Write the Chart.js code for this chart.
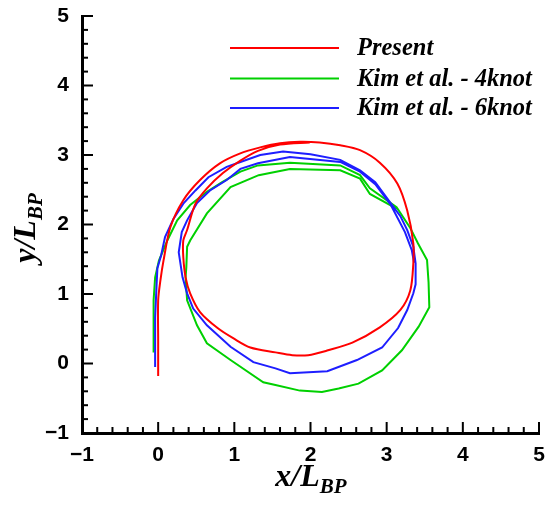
<!DOCTYPE html>
<html lang="en">
<head>
    <meta charset="UTF-8">
    <title>Turning circle trajectory</title>
    <script src="https://cdn.jsdelivr.net/npm/chart.js"></script>
    <style>
        * { margin: 0; padding: 0; box-sizing: border-box; }
        body { background: #fff; width: 550px; height: 509px; overflow: hidden; }
        canvas { display: block; }
    </style>
</head>
<body>
    <canvas id="trajChart" width="550" height="509"></canvas>

    <script>
        // series labels and colours (legend order)
        const seriesLabels = ["Present", "Kim et al. - 4knot", "Kim et al. - 6knot"];
        const seriesColors = ["#ff0000", "#00d000", "#1e1eff"];

        // Present (red)
        const presentX = [0.00, 0.00, 0.00, 0.03, 0.07, 0.16, 0.33, 0.55, 0.81, 1.07, 1.34, 1.60, 1.86, 2.12, 2.39,
            2.65, 2.91, 3.14, 3.27, 3.35, 3.35, 3.31, 3.18, 2.91, 2.55, 2.23, 1.97, 1.76, 1.54, 1.21,
            0.99, 0.78, 0.55, 0.42, 0.36, 0.33, 0.33, 0.38, 0.49, 0.64, 0.85, 1.08, 1.31, 1.60, 1.99];
        const presentY = [-0.18, 0.33, 0.91, 1.20, 1.48, 1.96, 2.35, 2.64, 2.88, 3.02, 3.11, 3.17, 3.19, 3.18, 3.14,
            3.07, 2.89, 2.59, 2.20, 1.73, 1.44, 1.05, 0.77, 0.52, 0.30, 0.19, 0.12, 0.12, 0.16, 0.23,
            0.36, 0.51, 0.74, 1.01, 1.24, 1.53, 1.77, 1.92, 2.30, 2.52, 2.74, 2.92, 3.06, 3.15, 3.18];

        // Kim et al. - 4knot (green)
        const kim4X = [-0.06, -0.06, -0.04, 0.01, 0.12, 0.25, 0.42, 0.64, 0.84, 1.08, 1.31, 1.73, 2.39, 2.65, 2.78,
            3.13, 3.31, 3.41, 3.53, 3.55, 3.56, 3.42, 3.20, 2.94, 2.63, 2.37, 2.15, 1.86, 1.54, 1.38,
            0.95, 0.64, 0.51, 0.38, 0.36, 0.37, 0.38, 0.42, 0.64, 0.95, 1.32, 1.73, 2.39, 2.65, 2.78, 3.13];
        const kim4Y = [0.16, 0.91, 1.24, 1.48, 1.77, 2.06, 2.28, 2.47, 2.61, 2.76, 2.85, 2.89, 2.85, 2.71, 2.52,
            2.25, 1.95, 1.73, 1.49, 1.17, 0.81, 0.53, 0.19, -0.10, -0.29, -0.36, -0.41, -0.39, -0.31, -0.27,
            0.05, 0.29, 0.55, 0.91, 1.24, 1.39, 1.68, 1.77, 2.16, 2.54, 2.71, 2.80, 2.78, 2.66, 2.44, 2.23];

        // Kim et al. - 6knot (blue)
        const kim6X = [-0.04, -0.04, -0.02, -0.01, 0.04, 0.09, 0.20, 0.33, 0.49, 0.66, 0.90, 1.08, 1.34, 1.64, 2.00,
            2.39, 2.65, 2.85, 3.05, 3.18, 3.27, 3.35, 3.38, 3.38, 3.35, 3.27, 3.15, 2.94, 2.61, 2.22,
            1.73, 1.54, 1.25, 0.95, 0.64, 0.46, 0.38, 0.32, 0.27, 0.31, 0.38, 0.51, 0.68, 0.90, 1.08,
            1.31, 1.73, 2.39, 2.65, 2.85, 3.05, 3.24, 3.33, 3.36];
        const kim6Y = [-0.05, 0.66, 1.15, 1.37, 1.56, 1.82, 2.08, 2.30, 2.49, 2.68, 2.83, 2.90, 3.00, 3.05, 3.01,
            2.93, 2.78, 2.61, 2.31, 2.12, 1.92, 1.68, 1.44, 1.14, 1.01, 0.77, 0.51, 0.23, 0.05, -0.11,
            -0.14, -0.07, 0.02, 0.24, 0.55, 0.79, 1.01, 1.24, 1.60, 1.89, 2.06, 2.31, 2.49, 2.64, 2.80,
            2.88, 2.97, 2.90, 2.76, 2.58, 2.29, 1.89, 1.63, 1.45];

        // axis range and ticks
        const axisMin = -1;
        const axisMax = 5;
        const majorStep = 1;
        const minorStep = 0.2;

        const toPoints = (xs, ys) => xs.map((x, i) => ({ x: x, y: ys[i] }));

        const seriesData = [
            toPoints(presentX, presentY),
            toPoints(kim4X, kim4Y),
            toPoints(kim6X, kim6Y)
        ];
        const drawOrder = [0, 2, 1]; // red on top, then blue, green underneath
        const smoothing = [0.3, 0, 0]; // the present result is a smooth curve, the others are polylines

        const tickLabel = v => (v < 0 ? "\u2212" + Math.abs(v) : String(v));

        // inward major/minor ticks like the original plot
        const innerTicks = {
            id: "innerTicks",
            afterDraw(chart) {
                const ctx = chart.ctx;
                const xs = chart.scales.x, ys = chart.scales.y;
                const area = chart.chartArea;
                ctx.save();
                ctx.strokeStyle = "#000";
                ctx.lineWidth = 2;
                const n = Math.round((axisMax - axisMin) / minorStep);
                for (let i = 1; i <= n; i++) {
                    const v = axisMin + i * minorStep;
                    const major = i % Math.round(majorStep / minorStep) === 0;
                    const len = major ? 11 : 6;
                    const px = xs.getPixelForValue(v);
                    ctx.beginPath();
                    ctx.moveTo(px, area.bottom);
                    ctx.lineTo(px, area.bottom - len);
                    ctx.stroke();
                    const py = ys.getPixelForValue(v);
                    ctx.beginPath();
                    ctx.moveTo(area.left, py);
                    ctx.lineTo(area.left + len, py);
                    ctx.stroke();
                }
                ctx.restore();
            }
        };

        // legend inside the plot and axis titles with subscripts
        const annotations = {
            id: "annotations",
            afterDraw(chart) {
                const ctx = chart.ctx;
                ctx.save();
                const rows = [48, 78.5, 108];
                seriesLabels.forEach((label, i) => {
                    ctx.strokeStyle = seriesColors[i];
                    ctx.lineWidth = 2;
                    ctx.beginPath();
                    ctx.moveTo(230, rows[i]);
                    ctx.lineTo(339, rows[i]);
                    ctx.stroke();
                    ctx.fillStyle = "#000";
                    ctx.font = "bold italic 24.5px 'Liberation Serif'";
                    ctx.textBaseline = "middle";
                    ctx.textAlign = "left";
                    ctx.fillText(label, 357, rows[i] + 1);
                });

                const mainFont = "bold italic 32px 'Liberation Serif'";
                const subFont = "bold italic 21px 'Liberation Serif'";
                const drawTitle = (main, sub) => {
                    ctx.font = mainFont;
                    const w1 = ctx.measureText(main).width;
                    ctx.font = subFont;
                    const w2 = ctx.measureText(sub).width;
                    const start = -(w1 + w2) / 2;
                    ctx.textBaseline = "alphabetic";
                    ctx.textAlign = "left";
                    ctx.fillStyle = "#000";
                    ctx.font = mainFont;
                    ctx.fillText(main, start, 0);
                    ctx.font = subFont;
                    ctx.fillText(sub, start + w1, 7);
                };

                ctx.save();
                ctx.translate(311, 486);
                drawTitle("x/L", "BP");
                ctx.restore();

                ctx.save();
                ctx.translate(35, 228);
                ctx.rotate(-Math.PI / 2);
                drawTitle("y/L", "BP");
                ctx.restore();

                ctx.restore();
            }
        };

        const axisOptions = (pad) => ({
            type: "linear",
            min: axisMin,
            max: axisMax,
            grid: { display: false, drawTicks: false },
            border: { display: true, color: "#000", width: 3 },
            ticks: {
                stepSize: majorStep,
                padding: pad,
                color: "#000",
                font: { family: "'Liberation Sans', Arial, sans-serif", size: 21, weight: "bold" },
                callback: tickLabel
            }
        });

        // fixed plot frame: labels may overhang into the outer margins
        const xAxis = axisOptions(10);
        xAxis.afterFit = scale => {
            scale.height = 76;
            scale.paddingLeft = 0;
            scale.paddingRight = 0;
        };
        const yAxis = axisOptions(13);
        yAxis.afterFit = scale => {
            scale.width = 82;
            scale.paddingTop = 0;
            scale.paddingBottom = 0;
        };

        new Chart(document.getElementById("trajChart"), {
            type: "scatter",
            data: {
                datasets: seriesLabels.map((label, i) => ({
                    label: label,
                    data: seriesData[i],
                    showLine: true,
                    borderColor: seriesColors[i],
                    backgroundColor: seriesColors[i],
                    borderWidth: 2,
                    pointRadius: 0,
                    tension: smoothing[i],
                    fill: false,
                    order: drawOrder[i]
                }))
            },
            options: {
                responsive: false,
                animation: false,
                devicePixelRatio: 1,
                layout: { padding: { left: 0, right: 11, top: 16, bottom: 0 } },
                scales: { x: xAxis, y: yAxis },
                plugins: {
                    legend: { display: false },
                    tooltip: { enabled: false }
                }
            },
            plugins: [innerTicks, annotations]
        });
    </script>
</body>
</html>
